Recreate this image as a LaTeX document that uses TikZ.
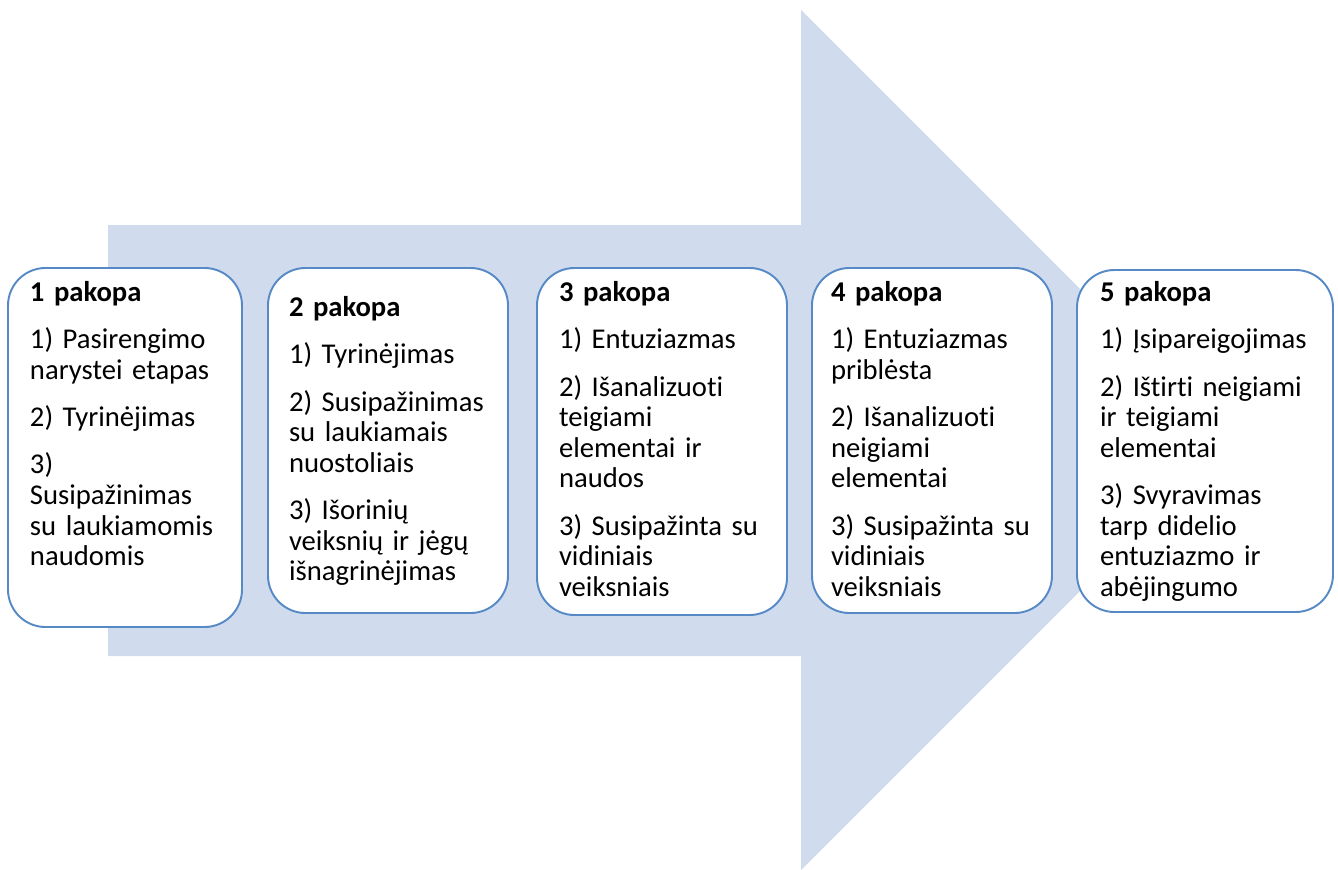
\documentclass[tikz,border=0pt]{standalone}
\usepackage{fontspec}
\setmainfont{Carlito}[Ligatures={NoCommon,NoContextual}, Contextuals=NoAlternate]
\definecolor{rodykle}{RGB}{208,220,238}
\definecolor{remelis}{RGB}{86,137,198}
% eilutė, ištempta per visą plotį
\newcommand{\jl}[1]{\makebox[\linewidth][s]{#1}}

\begin{document}
\begin{tikzpicture}[x=0.2mm, y=-0.2mm,
    pakopa/.style={draw=remelis, line width=1.1pt, fill=white, rounded corners=7.5mm},
    tekstas/.style={anchor=north, align=left, inner sep=0pt, font=\fontsize{16.3}{17.4}\selectfont}]
    \useasboundingbox (0,0) rectangle (1338,870);

    % Rodyklė fone
    \fill[rodykle] (108,225) -- (801,225) -- (801,10) -- (1231,440) -- (801,870) -- (801,656) -- (108,656) -- cycle;

    % 1 pakopa
    \node[pakopa, minimum width=46.8mm, minimum height=71.8mm] (P1) at (125,447.5) {};
    \node[tekstas, text width=38mm] (T1) at (P1.north) [yshift=-2.8mm]
        {\textbf{1 pakopa}\\[9.5pt]
        \jl{1) Pasirengimo}\\narystei etapas\\[9.5pt]
        2) Tyrinėjimas\\[9.5pt]
        3)\\Susipažinimas\\\jl{su laukiamomis}\\naudomis};

    % 2 pakopa
    \node[pakopa, minimum width=48mm, minimum height=69mm] (P2) at (388,440.5) {};
    \node[tekstas, text width=39.6mm] (T2) at (P2.north) [yshift=-5.8mm]
        {\textbf{2 pakopa}\\[9.5pt]
        1) Tyrinėjimas\\[9.5pt]
        \jl{2) Susipažinimas}\\\jl{su laukiamais}\\nuostoliais\\[9.5pt]
        \jl{3) Išorinių}\\\jl{veiksnių ir jėgų}\\išnagrinėjimas};

    % 3 pakopa
    \node[pakopa, minimum width=50mm, minimum height=69.4mm] (P3) at (662,441.5) {};
    \node[tekstas, text width=41.2mm] (T3) at (P3.north) [yshift=-2.8mm]
        {\textbf{3 pakopa}\\[9.5pt]
        1) Entuziazmas\\[9.5pt]
        \jl{2) Išanalizuoti}\\teigiami\\\jl{elementai ir}\\naudos\\[9.5pt]
        \jl{3) Susipažinta su}\\vidiniais\\veiksniais};

    % 4 pakopa
    \node[pakopa, minimum width=48mm, minimum height=69mm] (P4) at (932,440.5) {};
    \node[tekstas, text width=40.4mm] (T4) at (P4.north) [yshift=-2.8mm]
        {\textbf{4 pakopa}\\[9.5pt]
        \jl{1) Entuziazmas}\\priblėsta\\[9.5pt]
        \jl{2) Išanalizuoti}\\neigiami\\elementai\\[9.5pt]
        \jl{3) Susipažinta su}\\vidiniais\\veiksniais};

    % 5 pakopa
    \node[pakopa, minimum width=51.2mm, minimum height=68.4mm] (P5) at (1205,441) {};
    \node[tekstas, text width=42mm] (T5) at (P5.north) [yshift=-2.4mm]
        {\textbf{5 pakopa}\\[9.5pt]
        1) Įsipareigojimas\\[9.5pt]
        \jl{2) Ištirti neigiami}\\\jl{ir teigiami}\\elementai\\[9.5pt]
        \jl{3) Svyravimas}\\\jl{tarp didelio}\\\jl{entuziazmo ir}\\abėjingumo};
\end{tikzpicture}
\end{document}
